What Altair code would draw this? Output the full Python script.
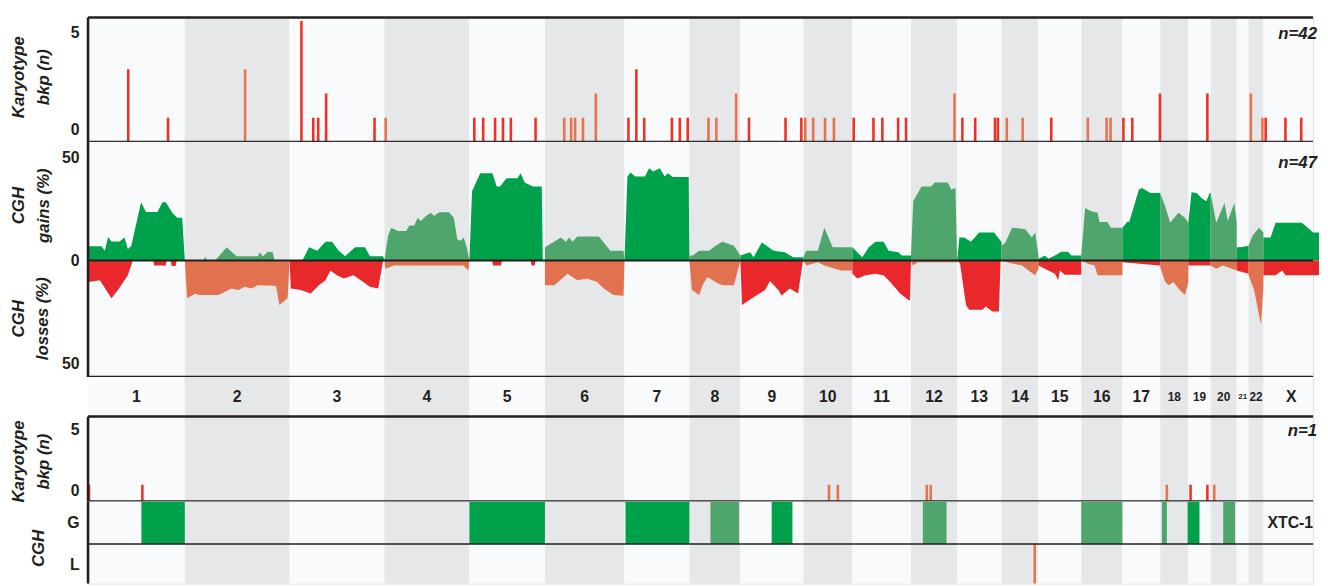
import bisect
import altair as alt
import pandas as pd

# ---------------- data ----------------
CHROMS = [str(i) for i in range(1, 23)] + ["X"]
# chromosome extents along the genome axis (plot units)
CHROM_START = [0, 98, 204, 300, 386, 462.5, 543, 608.7, 660.3, 724, 773.7, 833,
               879.7, 924.7, 962, 1005.3, 1047, 1085.3, 1113.7, 1136.3, 1162.7,
               1174.7, 1189.7]
CHROM_END = CHROM_START[1:] + [1246]
VIEW_END = 1240  # visible part of the genome axis (X is cut at the right edge)

# Karyotype breakpoints, cohort (n=42)
BKP_POS = [40.7, 81, 159, 216, 228, 233, 241, 290, 301.3,
           391, 400, 412, 420, 428, 453,
           482, 489, 493, 501, 514,
           547, 555, 563, 591, 599, 607,
           628, 636, 656, 669, 706, 722,
           726, 734, 746, 755,
           775, 795, 804, 820, 828,
           877, 885, 898, 918, 921,
           930, 946, 975, 1012, 1031, 1035,
           1048, 1057, 1085, 1133, 1177, 1188.7, 1192, 1212, 1228]
BKP_N = [3, 1, 3, 5, 1, 1, 2, 1, 1,
         1, 1, 1, 1, 1, 1,
         1, 1, 1, 1, 2,
         1, 3, 1, 1, 1, 1,
         1, 1, 2, 1, 1, 1,
         1, 1, 1, 1,
         1, 1, 1, 1, 1,
         2, 1, 1, 1, 1,
         1, 1, 1, 1, 1, 1,
         1, 1, 2, 2, 2, 1, 1, 1, 1]

# CGH gains / losses (% of cases), per chromosome: (position, percent)
GAINS = {
    "1": [(0, 6.9), (13.7, 6.9), (17, 4.8), (20.3, 11.5), (23.7, 9.3), (32, 9.3), (37, 11.2),
          (40.3, 5.6), (43.7, 6.9), (53.7, 28.4), (58.7, 23.6), (70.3, 23.6), (75.3, 28.4),
          (78.7, 28.4), (85.3, 23.2), (90.3, 20.8), (95.3, 20.8), (98, 0)],
    "2": [(98, 0), (117, 0), (118.7, 1.9), (120.3, 0), (128.7, 0), (140.3, 6.4), (150.3, 2.1),
          (172, 2.1), (173.7, 4), (177, 2.1), (182, 4.3), (187, 4), (188.7, 0), (204, 0)],
    "3": [(204, 0), (217, 0), (223.7, 6.4), (232, 4.8), (240.3, 9.1), (247, 9.1), (253.7, 4.8),
          (260.3, 2.1), (270.3, 6.4), (280.3, 6.4), (285.3, 2.1), (298.7, 2.1), (300, 0)],
    "4": [(300, 0), (303.7, 12), (307, 16), (313.7, 14.4), (322, 14.4), (325.3, 17), (330.3, 17),
          (333.7, 20.8), (337, 19.2), (342, 21.6), (347, 23.2), (350.3, 21.6), (355.3, 23.5),
          (365.3, 23.5), (370.3, 20.8), (373.7, 10.4), (377, 9.6), (380.3, 11.2), (383.7, 5.6),
          (386, 0)],
    "5": [(386, 0), (388.7, 33.7), (397, 42.5), (409.3, 42.5), (413.7, 36), (417, 36),
          (423.7, 40), (434.7, 40), (438, 42.5), (442, 38), (450.3, 36), (459.3, 36),
          (460.3, 0), (462.5, 0)],
    "6": [(462.5, 6.4), (470.3, 8.8), (478.7, 11.2), (483.7, 9.1), (487, 11.2), (490.3, 9.1),
          (495.3, 11.7), (517, 11.7), (528.7, 4.8), (542, 4.8), (543, 0)],
    "7": [(543, 0), (546, 40.9), (549.3, 42.8), (553.7, 40.9), (563.7, 40.9), (568, 44.9),
          (572, 43.3), (578.7, 44.9), (583.7, 40.9), (587, 42.5), (592, 40.6), (608, 40.6),
          (608.7, 0)],
    "8": [(608.7, 2.4), (612, 2.4), (618.7, 4.8), (628.7, 4.8), (635.3, 7.2), (642, 9.1),
          (653.7, 7.2), (660.3, 2.4)],
    "9": [(660.3, 2.4), (670.3, 4), (673.7, 1.6), (682, 8.8), (693.7, 4.8), (705.3, 4),
          (713.7, 1.6), (724, 1.6)],
    "10": [(724, 1.6), (727, 4.8), (738.7, 4.8), (745.3, 16), (753.7, 6.4), (773.7, 6.4)],
    "11": [(773.7, 6.4), (783.7, 1.6), (790.3, 6.4), (797, 9.1), (805.3, 9.1), (810.3, 4.8),
           (820.3, 4), (823.7, 2.4), (833, 2.4)],
    "12": [(833, 2.4), (835.3, 28.8), (843.7, 36), (853.7, 36), (857, 38), (870.3, 38),
           (873.7, 34.5), (878, 35.3), (879.7, 0)],
    "13": [(879.7, 0), (882, 11.2), (887, 11.2), (893.7, 9.1), (902, 13.6), (917, 13.6),
           (924.7, 9)],
    "14": [(924.7, 7.2), (928.7, 8.8), (935.3, 16), (948.7, 15.2), (955.3, 11.2),
           (958.7, 13.6), (962, 2.4)],
    "15": [(962, 0.8), (968.7, 2.4), (972, 0.8), (978.7, 2.4), (985.3, 4.3), (992, 4.3),
           (995.3, 2.4), (1005.3, 2.4)],
    "16": [(1005.3, 2.4), (1009.3, 25.6), (1015.3, 24), (1022, 23.2), (1023.7, 18.7),
           (1032, 18.7), (1035.3, 16), (1047, 16)],
    "17": [(1047, 16), (1052, 18.9), (1054, 18.9), (1063.7, 34.5), (1067, 35.3),
           (1075.3, 32.9), (1085.3, 32.9)],
    "18": [(1085.3, 32.9), (1090.3, 26.4), (1095.3, 18.4), (1103.7, 23.2), (1110.3, 20.8),
           (1113.7, 18.4)],
    "19": [(1113.7, 18.4), (1117, 33.2), (1122, 32.9), (1127, 30.4), (1132, 28.8),
           (1135.3, 32.9), (1136.3, 32.9)],
    "20": [(1136.3, 32.9), (1142, 18.4), (1150.3, 28), (1153.7, 19.2), (1160.3, 28),
           (1162.7, 18.4)],
    "21": [(1162.7, 6.4), (1166.7, 6.4), (1174.7, 7.2)],
    "22": [(1174.7, 7.2), (1178.7, 12), (1185.3, 16), (1189.7, 13.6)],
    "X": [(1189.7, 11.2), (1197, 11.2), (1202, 18.4), (1228.7, 18.4), (1240, 13.6),
          (1246, 13.6)],
}
LOSSES = {
    "1": [(0, 10.4), (12, 9.6), (23.7, 18.4), (30.3, 14.4), (40.3, 7.2), (45.3, 0), (66, 0),
          (67, 2.4), (78.7, 2.4), (79.7, 0), (83.7, 0), (84.7, 2.7), (88.7, 2.7), (89.7, 0),
          (98, 0)],
    "2": [(98, 0), (100.3, 18.4), (108.7, 16), (112, 16.8), (132, 16.8), (145.3, 13.6),
          (152, 14.4), (158.7, 12.8), (165.3, 13.6), (172, 12), (190.3, 12.3), (193.7, 21.6),
          (202, 18.4), (204, 0)],
    "3": [(204, 0), (205.3, 13.6), (215.3, 14.4), (225.3, 16), (233.7, 12), (240.3, 9.6),
          (245.3, 4.8), (252, 7.2), (258.7, 8.8), (268.7, 7.2), (278.7, 10.4), (285.3, 12.8),
          (293.7, 13.6), (298.7, 0), (300, 0)],
    "4": [(300, 0), (301, 4), (310, 2.4), (380, 2.4), (385, 4.8), (386, 0)],
    "5": [(386, 0), (409, 0), (410, 2.4), (418, 2.4), (419, 0), (448, 0), (449, 2.4),
          (452, 2.4), (453, 0), (462.5, 0)],
    "6": [(462.5, 12), (472, 12), (485.3, 6.4), (495.3, 9.6), (505.3, 8.8), (515.3, 10.4),
          (522, 13.6), (532, 16.8), (542, 17.1), (543, 0)],
    "8": [(608.7, 0), (611.3, 14.4), (618.7, 16.8), (622, 12), (627, 8), (635.3, 10.4),
          (642, 12), (653.7, 12), (660.3, 0)],
    "9": [(660.3, 0), (662, 21.6), (672, 18.4), (685.3, 14.4), (690.3, 10), (698.7, 14.4),
          (702, 17), (710.3, 13.6), (718.7, 16), (723.7, 0)],
    "10": [(724, 0), (727, 2.4), (738.7, 0.8), (745.3, 2.4), (762, 4.8), (773.7, 4.8)],
    "11": [(773.7, 6.4), (778.7, 8.8), (787, 7.2), (797, 6.4), (805.3, 7.2), (812, 10.4),
           (822, 16), (830.3, 19.2), (832, 19.2), (833, 0)],
    "12": [(833, 0), (835, 2.4), (840, 0.8), (879.7, 0.8)],
    "13": [(879.7, 0), (882.7, 1.6), (888.7, 21.6), (892, 24), (905.3, 24), (908.7, 22.4),
           (915.3, 24.8), (922, 24.8), (923.7, 0)],
    "14": [(924.7, 0), (932, 1.1), (945.3, 2.4), (952, 4.8), (958.7, 7.2), (962, 4)],
    "15": [(962, 2.4), (978.7, 6.4), (982, 9.6), (983.7, 4.8), (988.7, 6.9), (1005.3, 6.9)],
    "16": [(1005.3, 0), (1012, 1.6), (1018.7, 2.4), (1022, 7.2), (1047, 7.2)],
    "17": [(1047, 0.8), (1085.3, 2.4)],
    "18": [(1085.3, 3.2), (1090.3, 10.4), (1093.7, 12), (1098.7, 10.4), (1103.7, 13.6),
           (1110.3, 16.8), (1113.7, 10.4)],
    "19": [(1113.7, 2.4), (1136.3, 2.4)],
    "20": [(1136.3, 2.4), (1142, 4), (1148.7, 2.4), (1162.7, 4.8)],
    "21": [(1162.7, 4.8), (1174.7, 6.4)],
    "22": [(1174.7, 7.2), (1180.3, 14.4), (1187.3, 31.2), (1189.7, 12)],
    "X": [(1189.7, 7.2), (1202, 7.2), (1208.7, 4.8), (1212, 7.2), (1246, 7.2)],
}

# single case XTC-1 (n=1)
BKP1_POS = [1, 55, 750, 759, 849, 853, 1092, 1116, 1133, 1140]
BKP1_N = [1, 1, 1, 1, 1, 1, 1, 1, 1, 1]
CGH1_ROW = ["G", "G", "G", "G", "G", "G", "G", "G", "G", "G", "L"]
CGH1_START = [54, 386, 544, 630, 692, 845, 1005.3, 1087, 1113, 1149, 957]
CGH1_END = [98, 462.5, 608.7, 659, 713, 869, 1047, 1092, 1125, 1161, 959.5]

# ---------------- tables ----------------
def chrom_index(pos):
    return max(0, bisect.bisect_right(CHROM_START, pos) - 1)

def shade_of(i):
    return "gray" if i % 2 == 1 else "light"

band_df = pd.DataFrame({
    "chrom": CHROMS,
    "start": CHROM_START,
    "end": CHROM_END,
    "shade": [shade_of(i) for i in range(len(CHROMS))],
})
band_df["center"] = (band_df["start"] + band_df["end"]) / 2

bkp_df = pd.DataFrame({"pos": BKP_POS, "n": BKP_N})
bkp_df["shade"] = [shade_of(chrom_index(p)) for p in BKP_POS]
bkp1_df = pd.DataFrame({"pos": BKP1_POS, "n": BKP1_N})
bkp1_df["shade"] = [shade_of(chrom_index(p)) for p in BKP1_POS]

rows = []
for kind, table in (("gain", GAINS), ("loss", LOSSES)):
    for c, pts in table.items():
        sh = shade_of(CHROMS.index(c))
        for p, v in pts:
            rows.append({"chrom": c, "pos": p, "pct": v, "kind": kind, "shade": sh})
prof_df = pd.DataFrame(rows)

cgh1_df = pd.DataFrame({"row": CGH1_ROW, "start": CGH1_START, "end": CGH1_END})
cgh1_df["shade"] = [shade_of(chrom_index((a + b) / 2)) for a, b in zip(CGH1_START, CGH1_END)]

one = pd.DataFrame({"k": [0]})

# ---------------- style ----------------
FRAME = "#231f20"
LIGHT, GRAY = "#f9fafb", "#e6e7e9"
GREEN, GREEN_M = "#00a14b", "#4ea66c"
RED, RED_M = "#e8282b", "#e1714f"
BAR_RED, BAR_RED_M = "#ee3124", "#e6734f"
FONT = "Liberation Sans"
W = VIEW_END
H1, H2, H3, H4, H5 = 126, 238, 40, 86, 83
TX = -70  # x of the first title line, relative to the plot's left edge

xs = alt.Scale(domain=[0, VIEW_END], nice=False, zero=False)


def by_shade(light_col, gray_col):
    return alt.condition("datum.shade == 'gray'", alt.value(gray_col), alt.value(light_col))


def bands():
    return alt.Chart(band_df).mark_rect(clip=True).encode(
        x=alt.X("start:Q", scale=xs, axis=None), x2="end:Q",
        color=by_shade(LIGHT, GRAY))


def hline(ypix, width=2.6):
    return alt.Chart(one).mark_rule(color=FRAME, strokeWidth=width).encode(y=alt.value(ypix))


def vline():
    return alt.Chart(one).mark_rule(color=FRAME, strokeWidth=2.6).encode(x=alt.value(0))


def n_label(text, ypix):
    return alt.Chart(pd.DataFrame({"label": [text]})).mark_text(
        align="right", baseline="middle", font=FONT, fontSize=17, fontWeight="bold",
        fontStyle="italic", color=FRAME, dx=4).encode(
        x=alt.value(W), y=alt.value(ypix), text="label:N")


def y_axis(title, title_y, title_x=TX, **kw):
    return alt.Axis(title=title, domain=False, ticks=False, grid=False,
                    labelFont=FONT, labelFontSize=16, labelFontWeight="bold",
                    labelColor=FRAME, labelPadding=9,
                    titleFont=FONT, titleFontSize=17, titleFontWeight="bold",
                    titleFontStyle="italic", titleColor=FRAME, titleAngle=270,
                    titleAlign="center", titleBaseline="middle", titleLineHeight=25,
                    titleX=title_x, titleY=title_y, **kw)


def bkp_panel(df, height, unit_px, off0, off5, ntext, ny, title_y):
    ax = y_axis(["Karyotype", "bkp (n)"], title_y, values=[0, 5],
                labelOffset={"condition": {"test": "datum.value === 0", "value": off0},
                             "value": off5})
    bars = alt.Chart(df).mark_rule(strokeWidth=2.6).encode(
        x=alt.X("pos:Q", scale=xs, axis=None),
        y=alt.Y("n:Q", scale=alt.Scale(domain=[0, height / unit_px], nice=False, zero=True),
                axis=ax),
        y2=alt.datum(0),
        color=by_shade(BAR_RED, BAR_RED_M))
    return alt.layer(bands(), bars, n_label(ntext, ny), hline(0), hline(height), vline()
                     ).properties(width=W, height=height)


# panel 1: karyotype breakpoints, cohort
p1 = bkp_panel(bkp_df, H1, 24.5, -13, 12, "n=42", 17, 60)

# panel 2: CGH gains / losses
ys2 = alt.Scale(domain=[-56.7, 57.7], nice=False, zero=False)
ax2 = y_axis(["CGH", "gains (%)"], 64, values=[-50, 0, 50], labelExpr="abs(datum.value)")
gains = alt.Chart(prof_df).transform_filter("datum.kind == 'gain'").mark_area().encode(
    x=alt.X("pos:Q", scale=xs, axis=None),
    y=alt.Y("pct:Q", scale=ys2, axis=ax2), y2=alt.datum(0),
    detail="chrom:N", color=by_shade(GREEN, GREEN_M))
losses = alt.Chart(prof_df).transform_filter("datum.kind == 'loss'").transform_calculate(
    neg="-datum.pct").mark_area().encode(
    x=alt.X("pos:Q", scale=xs, axis=None),
    y=alt.Y("neg:Q", scale=ys2, axis=ax2), y2=alt.datum(0),
    detail="chrom:N", color=by_shade(RED, RED_M))
zero = alt.Chart(one).mark_rule(color=FRAME, strokeWidth=2).encode(y=alt.datum(0))
loss_title = alt.Chart(pd.DataFrame({"t": ["CGH\nlosses (%)"]})).mark_text(
    angle=270, lineBreak="\n", lineHeight=25, font=FONT, fontSize=17, fontWeight="bold",
    fontStyle="italic", color=FRAME, align="center", baseline="middle").encode(
    x=alt.value(TX), y=alt.value(179), text="t:N")
p2 = alt.layer(bands(), gains, losses, zero, loss_title, n_label("n=47", 21),
               hline(H2), vline()).properties(width=W, height=H2)

# panel 3: chromosome labels
labels = alt.Chart(band_df).transform_calculate(
    fs="datum.chrom == '21' ? 8 : (indexof(['18','19','20','22'], datum.chrom) >= 0 ? 12 : 16)"
).mark_text(font=FONT, fontWeight="bold", color=FRAME, baseline="middle", clip=True).encode(
    x=alt.X("center:Q", scale=xs, axis=None), y=alt.value(H3 / 2),
    text="chrom:N", size=alt.Size("fs:Q", scale=None))
p3 = alt.layer(bands(), labels).properties(width=W, height=H3)

# panel 4: karyotype breakpoints, XTC-1
p4 = bkp_panel(bkp1_df, H4, 17, -11, 12, "n=1", 15, 45)

# panel 5: CGH gains/losses, XTC-1
yrow = alt.Scale(domain=["G", "L"], range=[0, 86], paddingInner=0, paddingOuter=0)
ax5 = y_axis("CGH", 47, title_x=-50)
blocks = alt.Chart(cgh1_df).transform_calculate(
    fillc=f"datum.row == 'L' ? '{RED_M}' : (datum.shade == 'gray' ? '{GREEN_M}' : '{GREEN}')"
).mark_rect(clip=True).encode(
    x=alt.X("start:Q", scale=xs, axis=None), x2="end:Q",
    y=alt.Y("row:N", scale=yrow, axis=ax5),
    color=alt.Color("fillc:N", scale=None))
xtc = alt.Chart(pd.DataFrame({"label": ["XTC-1"], "row": ["G"]})).mark_text(
    align="right", baseline="middle", font=FONT, fontSize=16, fontWeight="bold",
    color=FRAME, dx=0).encode(
    x=alt.value(W), y=alt.Y("row:N", scale=yrow, axis=ax5), text="label:N")
p5 = alt.layer(bands(), blocks, xtc, hline(43, 1.5), vline()).properties(width=W, height=H5)

chart = alt.vconcat(p1, p2, p3, p4, p5, spacing=0, bounds="flush").properties(
    padding={"left": 1, "top": 4, "right": 0, "bottom": 0}
).configure_view(stroke=None).configure(font=FONT)

chart.save("out.html", embed_options={"renderer": "svg", "actions": False})
